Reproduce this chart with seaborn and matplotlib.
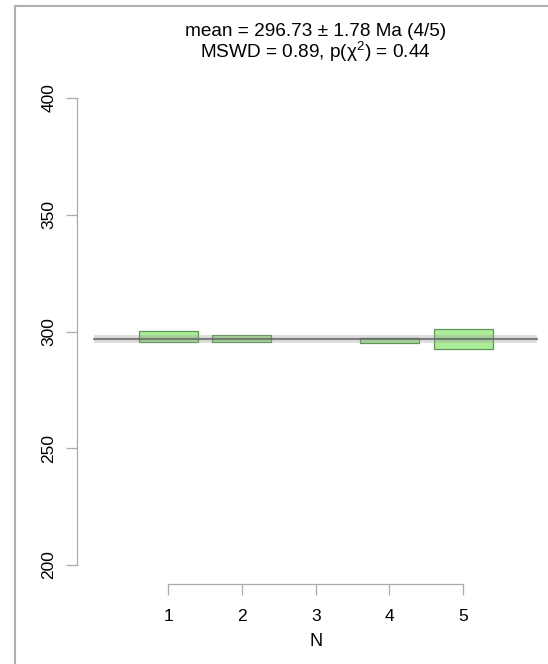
import numpy as np
import pandas as pd
import matplotlib
matplotlib.use("Agg")
import matplotlib.pyplot as plt
from matplotlib.lines import Line2D
import seaborn as sns

# Weighted-mean data (ages in Ma, half-widths of the error boxes)
aliquot = [1, 2, 3, 4, 5]
age = [297.8, 297.05, np.nan, 296.2, 296.9]       # aliquot 3 rejected, not shown
half_err = [2.4, 1.65, np.nan, 1.2, 4.2]
mean_age = 296.73
mean_err = 1.78
title_line1 = "mean = 296.73 ± 1.78 Ma (4/5)"
title_line2 = "MSWD = 0.89, p(χ$^{2}$) = 0.44"
y_ticks = [200, 250, 300, 350, 400]
x_ticks = [1, 2, 3, 4, 5]

df = pd.DataFrame({"N": aliquot, "age": age, "err": half_err}).dropna()

sns.set_theme(style="white")
plt.rcParams["font.family"] = ["Liberation Sans", "DejaVu Sans"]
plt.rcParams["mathtext.fontset"] = "custom"
plt.rcParams["mathtext.rm"] = "Liberation Sans"
plt.rcParams["mathtext.it"] = "Liberation Sans"
plt.rcParams["text.color"] = "black"

W, H = 548, 664
fig = plt.figure(figsize=(W / 100, H / 100), dpi=100)
fig.patch.set_facecolor("white")

# plot region (pixel-based placement)
left_px, right_px, top_px, bottom_px = 76.7, 554.7, 79.3, 583.7
ax = fig.add_axes([left_px / W, 1 - bottom_px / H,
                   (right_px - left_px) / W, (bottom_px - top_px) / H])
ax.set_facecolor("none")

ax.set_xlim(-0.24, 6.24)
ax.set_ylim(192, 408)

# error boxes
ax.bar(df["N"], 2 * df["err"], bottom=df["age"] - df["err"], width=0.8,
       color="#abed99", edgecolor="#5f9455", linewidth=0.9, zorder=2)

# weighted mean with its uncertainty band
line_df = pd.DataFrame({"x": [0, 6], "y": [mean_age, mean_age]})
ax.fill_between([0, 6], mean_age - mean_err, mean_age + mean_err,
                color="#9a9a9a", alpha=0.3, linewidth=0, zorder=3)
sns.lineplot(data=line_df, x="x", y="y", ax=ax, color="#666666",
             linewidth=1.6, alpha=0.8, zorder=4)

# R-style axes
grey = "#ababab"
for side in ["top", "right"]:
    ax.spines[side].set_visible(False)
ax.spines["left"].set_bounds(200, 400)
ax.spines["bottom"].set_bounds(1, 5)
for side in ["left", "bottom"]:
    ax.spines[side].set_color(grey)
    ax.spines[side].set_linewidth(0.9)

ax.set_yticks(y_ticks)
ax.set_yticklabels([str(v) for v in y_ticks], rotation=90, va="center")
ax.set_xticks(x_ticks)
ax.set_xticklabels([str(v) for v in x_ticks])
ax.tick_params(axis="both", which="both", direction="out", length=8,
               width=0.9, color=grey, labelsize=12.5, labelcolor="black")
ax.tick_params(axis="y", pad=6.5, left=True)
ax.tick_params(axis="x", pad=10, bottom=True)
ax.set_xlabel("")
ax.set_ylabel("")

# axis label and title lines
cx = (left_px + right_px) / 2 / W
fig.text(cx, 1 - 642 / H, "N", ha="center", va="center", fontsize=13,
         color="black")
fig.text(cx, 1 - 32 / H, title_line1, ha="center", va="center",
         fontsize=13.7, color="black")
fig.text(cx, 1 - 52 / H, title_line2, ha="center", va="center",
         fontsize=13.7, color="black")

# outer frame (left and top edges)
fx, fy = 15 / W, 1 - 5.7 / H
fig.add_artist(Line2D([fx, fx], [0, fy], transform=fig.transFigure,
                      color="#b0b0b0", linewidth=1.5))
fig.add_artist(Line2D([fx, 1], [fy, fy], transform=fig.transFigure,
                      color="#b0b0b0", linewidth=1.5))

fig.savefig("out.png", dpi=100)
